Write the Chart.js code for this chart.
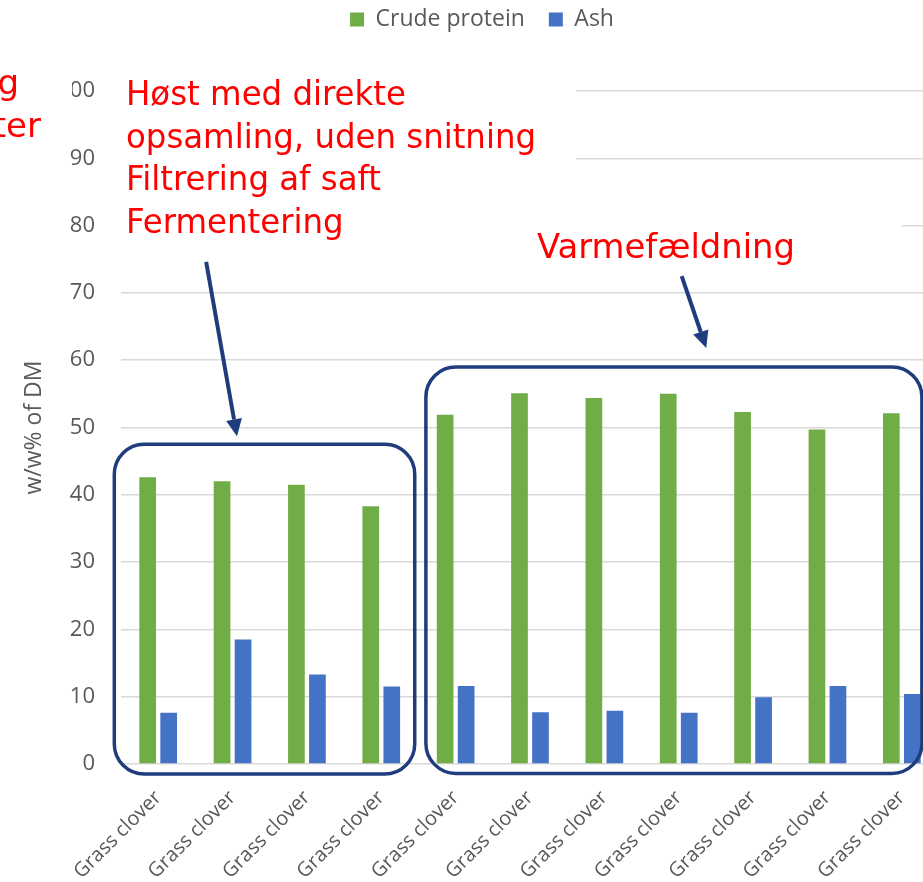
<!DOCTYPE html>
<html>
<head>
<meta charset="utf-8">
<script src="https://cdn.jsdelivr.net/npm/chart.js@4.4.1/dist/chart.umd.min.js"></script>
<style>
  html, body { margin: 0; padding: 0; background: #fff; overflow: hidden; }
  .wrap { position: relative; width: 964px; height: 882px; }
</style>
</head>
<body>
<div class="wrap"><canvas id="chart"></canvas></div>
<script>
const categories = ['Grass clover', 'Grass clover', 'Grass clover', 'Grass clover', 'Grass clover',
  'Grass clover', 'Grass clover', 'Grass clover', 'Grass clover', 'Grass clover', 'Grass clover'];
const crudeProtein = [42.6, 42.0, 41.5, 38.3, 51.9, 55.1, 54.4, 55.0, 52.3, 49.7, 52.1];
const ash = [7.6, 18.5, 13.3, 11.5, 11.6, 7.7, 7.9, 7.6, 9.9, 11.6, 10.4];
const yMin = 0, yMax = 100, yStep = 10;

const navy = '#1f3d7c';
const red = '#ff0000';
const redFont = "34px 'DejaVu Sans'";

Chart.defaults.font.family = "'Open Sans', sans-serif";
Chart.defaults.color = '#595959';

// push the plot down below the legend
const legendGap = {
  id: 'legendGap',
  beforeInit(chart) {
    const fit = chart.legend.fit;
    chart.legend.fit = function () {
      fit.call(this);
      this.height += 50;
    };
  }
};

function redText(ctx, lines, x, y, lineGap, widest, width) {
  ctx.save();
  ctx.font = redFont;
  const sx = width / ctx.measureText(widest).width;
  ctx.fillStyle = red;
  ctx.textBaseline = 'alphabetic';
  lines.forEach((t, k) => {
    ctx.save();
    ctx.translate(x, y + k * lineGap);
    ctx.scale(sx, 1);
    ctx.fillText(t, 0, 0);
    ctx.restore();
  });
  ctx.restore();
}

function roundBox(ctx, x0, y0, x1, y1, r) {
  ctx.beginPath();
  ctx.moveTo(x0 + r, y0);
  ctx.arcTo(x1, y0, x1, y1, r);
  ctx.arcTo(x1, y1, x0, y1, r);
  ctx.arcTo(x0, y1, x0, y0, r);
  ctx.arcTo(x0, y0, x1, y0, r);
  ctx.closePath();
  ctx.stroke();
}

function arrow(ctx, x0, y0, x1, y1) {
  const a = Math.atan2(y1 - y0, x1 - x0);
  const len = 17, half = 8;
  const bx = x1 - len * Math.cos(a), by = y1 - len * Math.sin(a);
  ctx.beginPath();
  ctx.moveTo(x0, y0);
  ctx.lineTo(bx, by);
  ctx.stroke();
  ctx.beginPath();
  ctx.moveTo(x1, y1);
  ctx.lineTo(bx + half * Math.sin(a), by - half * Math.cos(a));
  ctx.lineTo(bx - half * Math.sin(a), by + half * Math.cos(a));
  ctx.closePath();
  ctx.fill();
}

const annotations = {
  id: 'annotations',
  afterDraw(chart) {
    const { ctx, scales: { x, y } } = chart;
    const step = x.getPixelForValue(1) - x.getPixelForValue(0);
    const px = i => x.getPixelForValue(0) + i * step;
    const py = v => y.getPixelForValue(v);

    // text boxes (white fill hides the gridlines behind them)
    ctx.save();
    ctx.fillStyle = '#fff';
    ctx.fillRect(0, 58, 72, 84);
    ctx.fillRect(118, 62, 458, 188);
    ctx.fillRect(522, 205, 380, 70);
    ctx.restore();

    redText(ctx, ['Høst med direkte', 'opsamling, uden snitning', 'Filtrering af saft', 'Fermentering'],
      126, 105, 42.5, 'opsamling, uden snitning', 410);
    redText(ctx, ['Varmefældning'], 537, 258, 0, 'Varmefældning', 258);

    ctx.save();
    ctx.font = redFont;
    ctx.fillStyle = red;
    ctx.textAlign = 'right';
    ctx.fillText('g', 19, 85);
    ctx.fillText('ter', 41, 128);
    ctx.restore();

    ctx.save();
    ctx.strokeStyle = navy;
    ctx.fillStyle = navy;
    ctx.lineWidth = 3.5;
    roundBox(ctx, px(-0.59), py(47.5), px(3.45), py(-1.5), 30);
    roundBox(ctx, px(3.6), py(59), px(10.27), py(-1.4), 30);
    ctx.lineWidth = 4;
    arrow(ctx, px(0.645), py(74.6), px(1.06), py(48.7));
    arrow(ctx, px(7.04), py(72.5), px(7.37), py(61.8));
    ctx.restore();
  }
};

new Chart(document.getElementById('chart'), {
  type: 'bar',
  data: {
    labels: categories,
    datasets: [
      { label: 'Crude protein', data: crudeProtein, backgroundColor: '#70ad47' },
      { label: 'Ash', data: ash, backgroundColor: '#4472c4' }
    ]
  },
  options: {
    responsive: true,
    maintainAspectRatio: false,
    animation: false,
    datasets: { bar: { categoryPercentage: 0.565, barPercentage: 0.795 } },
    layout: { padding: { top: -16, right: 25, bottom: 0, left: 25 } },
    plugins: {
      legend: {
        position: 'top',
        labels: { boxWidth: 14, boxHeight: 14, padding: 24, font: { size: 23 }, color: '#595959' }
      },
      tooltip: { enabled: false }
    },
    scales: {
      x: {
        grid: { display: false },
        border: { display: false },
        ticks: { autoSkip: false, minRotation: 45, maxRotation: 45, padding: 14, font: { size: 20 } },
        afterFit(scale) { scale.height = 118; }
      },
      y: {
        min: yMin,
        max: yMax,
        grid: { color: '#d9d9d9', lineWidth: 1.5, drawTicks: false },
        border: { display: false },
        ticks: { stepSize: yStep, padding: 26, font: { size: 22 } },
        title: { display: true, text: 'w/w% of DM', font: { size: 23 }, padding: { top: -4, bottom: 0 } },
        afterFit(scale) { scale.width = 96; }
      }
    }
  },
  plugins: [legendGap, annotations]
});
</script>
</body>
</html>
